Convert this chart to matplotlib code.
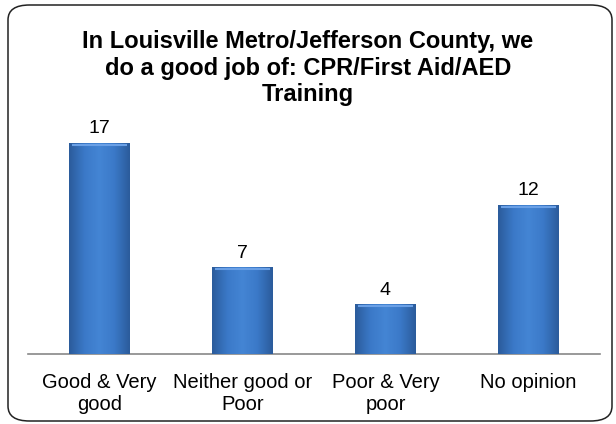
import matplotlib.pyplot as plt
import numpy as np
from matplotlib.patches import FancyBboxPatch
from matplotlib.colors import LinearSegmentedColormap

categories = ['Good & Very\ngood', 'Neither good or\nPoor', 'Poor & Very\npoor', 'No opinion']
values = [17, 7, 4, 12]
title = 'In Louisville Metro/Jefferson County, we\ndo a good job of: CPR/First Aid/AED\nTraining'

plt.rcParams['font.family'] = ['Liberation Sans', 'DejaVu Sans']

fig = plt.figure(figsize=(6.16, 4.24), dpi=100)

# rounded frame around the chart
frame = FancyBboxPatch((8 / 616, 3 / 424), 604 / 616, 416 / 424,
                       boxstyle='round,pad=0,rounding_size=0.035',
                       transform=fig.transFigure, facecolor='none',
                       edgecolor='#222222', linewidth=1.1, zorder=-1)
fig.patches.append(frame)

ax = fig.add_axes([28 / 616, 70 / 424, 572 / 616, 223.4 / 424])
ax.patch.set_alpha(0)

x = np.arange(len(values))
bars = ax.bar(x, values, width=0.42, color='#3c78c8', zorder=2)

# bevel-like gradient on each bar
cmap = LinearSegmentedColormap.from_list(
    'bev', ['#2b5c9c', '#3b79c8', '#4485d4', '#3b79c8', '#2b5c9c'])
grad = np.linspace(0, 1, 64).reshape(1, -1)
for b in bars:
    x0, y0 = b.get_x(), b.get_y()
    w, h = b.get_width(), b.get_height()
    im = ax.imshow(grad, cmap=cmap, aspect='auto',
                   extent=(x0, x0 + w, y0, y0 + h), zorder=3)
    im.set_clip_path(b)
    ax.plot([x0 + 0.02, x0 + w - 0.02], [y0 + h - 0.12] * 2,
            color='#6aa0e6', lw=1.5, zorder=4, solid_capstyle='butt')
ax.set_xlim(-0.5, len(values) - 0.5)
ax.set_ylim(0, 18)

for xi, v in zip(x, values):
    ax.text(xi, v + 0.45, str(v), ha='center', va='bottom', fontsize=14)

for s in ['top', 'right', 'left']:
    ax.spines[s].set_visible(False)
ax.spines['bottom'].set_color('#888888')
ax.spines['bottom'].set_linewidth(1.2)
ax.set_yticks([])
ax.set_xticks(x)
ax.set_xticklabels(categories, fontsize=14.5, linespacing=1.18)
ax.tick_params(axis='x', length=0, pad=14)

fig.text(0.5, 1 - 30 / 424, title, ha='center', va='top', fontsize=17,
         fontweight='bold', linespacing=1.2)

fig.savefig('out.png', dpi=100)
